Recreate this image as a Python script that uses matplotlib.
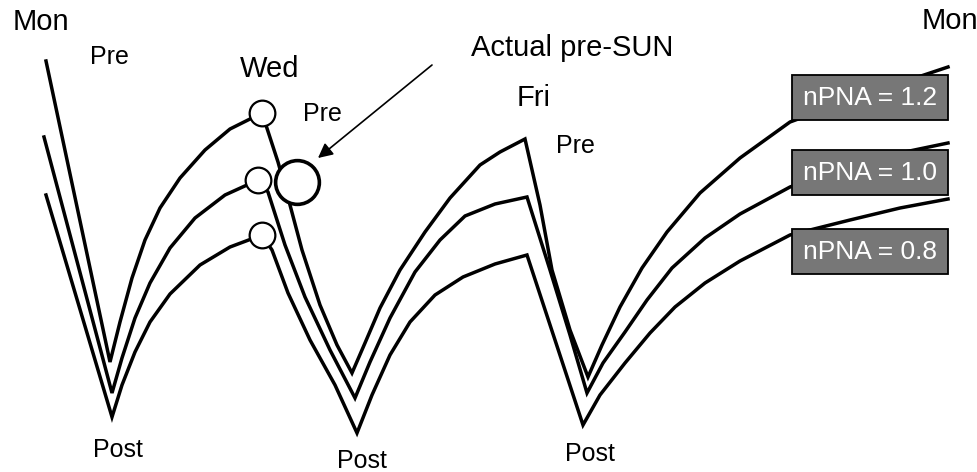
import matplotlib
matplotlib.use("Agg")
from matplotlib import pyplot as plt
from matplotlib.patches import Rectangle

plt.rcParams["font.family"] = ["Liberation Sans", "DejaVu Sans"]

# values (x = time along the week, y = level, image axis points down)
t_12 = [46, 110, 120, 132, 145, 160, 180, 205, 230, 262,
        278, 290, 302, 320, 337, 352,
        365, 380, 400, 425, 450, 480, 500, 525,
        540, 552, 570, 588,
        602, 620, 642, 667, 700, 740, 790, 850, 900, 948]
v_12 = [61, 362, 322, 278, 240, 208, 178, 150, 129, 113,
        162, 205, 250, 305, 345, 373,
        343, 308, 270, 232, 198, 165, 152, 139,
        205, 270, 330, 377,
        345, 307, 268, 232, 193, 158, 122, 100, 83, 67]

t_10 = [44, 112, 122, 135, 150, 170, 195, 225, 258,
        268, 285, 305, 330, 355,
        370, 390, 415, 440, 465, 495, 527,
        550, 570, 587,
        603, 625, 647, 672, 705, 740, 790, 850, 900, 948]
v_10 = [137, 393, 358, 318, 283, 248, 218, 195, 180,
        192, 245, 297, 350, 398,
        362, 318, 272, 240, 216, 204, 197,
        270, 335, 393,
        363, 332, 300, 268, 238, 214, 187, 166, 153, 143]

t_08 = [46, 112, 122, 135, 150, 170, 200, 230, 262,
        272, 288, 310, 335, 357,
        372, 390, 410, 435, 463, 495, 527,
        555, 583,
        600, 625, 650, 675, 705, 740, 790, 850, 900, 948]
v_08 = [195, 417, 385, 352, 322, 294, 265, 247, 235,
        250, 293, 340, 385, 433,
        395, 355, 322, 295, 277, 264, 255,
        340, 425,
        395, 363, 333, 307, 283, 261, 235, 220, 208, 199]

wed_idx = [9, 8, 8]            # index of the Wed "Pre" point in each series
actual_t, actual_v = 297, 182  # actual pre-SUN

series_labels = ["nPNA = 1.2", "nPNA = 1.0", "nPNA = 0.8"]
box_top = [75, 150, 229]

fig = plt.figure(figsize=(9.77, 4.72), dpi=100)
ax = fig.add_axes([0, 0, 1, 1])
ax.set_xlim(0, 977)
ax.set_ylim(472, 0)
ax.axis("off")

for t, v, i in zip([t_12, t_10, t_08], [v_12, v_10, v_08], wed_idx):
    ax.plot(t, v, color="black", lw=2.5, solid_joinstyle="miter", zorder=2)
    ax.plot(t[i], v[i], "o", ms=18.5, mfc="white", mec="black", mew=1.6, zorder=4)

ax.plot(actual_t, actual_v, "o", ms=31.5, mfc="white", mec="black", mew=2.6, zorder=4)

# labels on the right
for lab, y0 in zip(series_labels, box_top):
    ax.add_patch(Rectangle((792, y0), 156, 45, facecolor="#777777",
                           edgecolor="black", lw=1.3, zorder=5))
    ax.text(870, y0 + 23, lab, color="white", fontsize=19,
            ha="center", va="center", zorder=6)

fs_big = 21
fs_small = 18
ax.text(41, 22, "Mon", fontsize=fs_big, ha="center", va="center")
ax.text(950, 21, "Mon", fontsize=fs_big, ha="center", va="center")
ax.text(270, 69, "Wed", fontsize=fs_big, ha="center", va="center")
ax.text(534, 98, "Fri", fontsize=fs_big, ha="center", va="center")
ax.text(109, 57, "Pre", fontsize=fs_small, ha="center", va="center")
ax.text(322, 114, "Pre", fontsize=fs_small, ha="center", va="center")
ax.text(575, 146, "Pre", fontsize=fs_small, ha="center", va="center")
ax.text(118, 450, "Post", fontsize=fs_small, ha="center", va="center")
ax.text(362, 461, "Post", fontsize=fs_small, ha="center", va="center")
ax.text(590, 454, "Post", fontsize=fs_small, ha="center", va="center")

ax.text(572, 48, "Actual pre-SUN", fontsize=fs_big, ha="center", va="center")
ax.annotate("", xy=(318, 158), xytext=(432, 65),
            arrowprops=dict(arrowstyle="-|>", color="black", lw=1.2,
                            mutation_scale=22, shrinkA=0, shrinkB=0))

fig.savefig("out.png", dpi=100)
